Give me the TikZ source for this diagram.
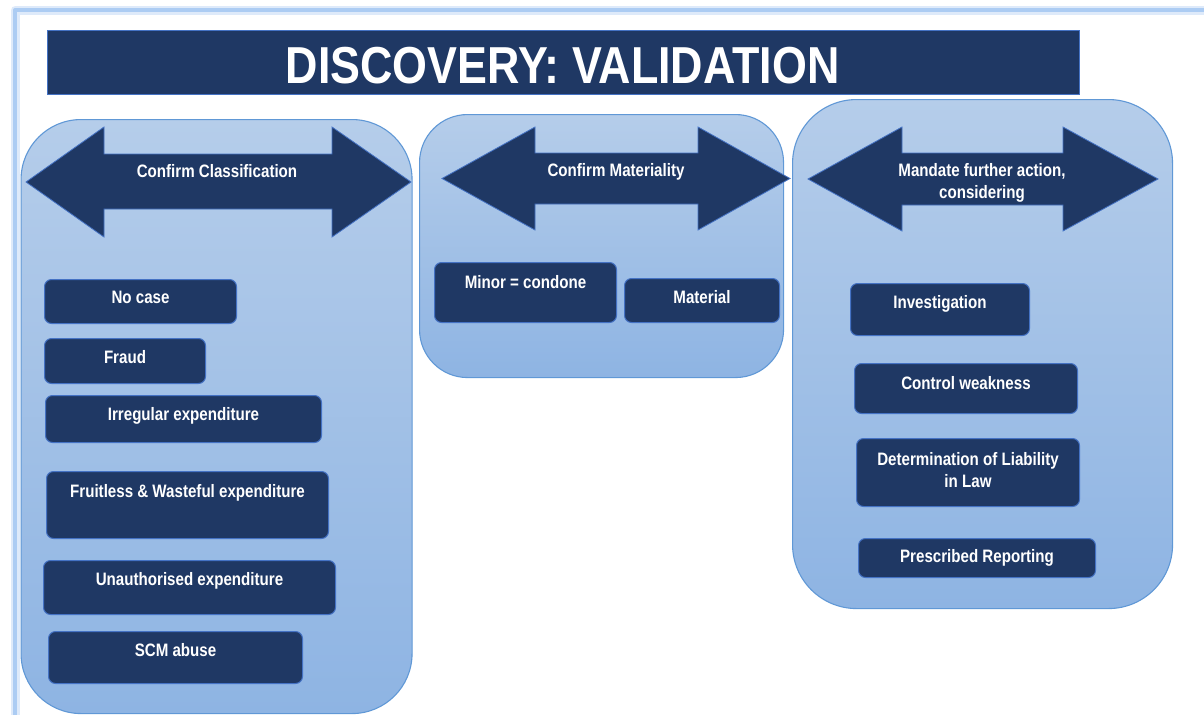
\documentclass[tikz,border=0pt]{standalone}
\usepackage{fontspec}
\setmainfont{Liberation Sans}[FakeStretch=0.84]
\newfontfamily\titlefont{Liberation Sans}[FakeStretch=0.862]
\definecolor{navy}{RGB}{31,56,100}
\definecolor{boxedge}{RGB}{68,114,196}
\definecolor{paneledge}{RGB}{96,152,214}
\definecolor{paneltop}{RGB}{181,205,234}
\definecolor{panelbot}{RGB}{142,180,227}
\definecolor{framecol}{RGB}{172,204,243}
\definecolor{frameglow}{RGB}{222,234,250}
\begin{document}
\begin{tikzpicture}[x=1pt,y=-1pt,
  panel/.style={draw=paneledge, line width=1.1pt, top color=paneltop, bottom color=panelbot, inner sep=0pt, anchor=north west},
  itembox/.style={draw=boxedge, line width=1pt, fill=navy, rounded corners=7pt, inner sep=0pt, anchor=north west},
  bigarrow/.style={fill=navy, draw=boxedge, line width=0.8pt, line join=miter},
  lbl/.style={text=white, font=\bfseries\fontsize{18}{22}\selectfont, inner sep=0pt, anchor=base},
  ttltxt/.style={text=white, font=\titlefont\bfseries\fontsize{52}{60}\selectfont, inner sep=0pt, anchor=base}]
\useasboundingbox (0,0) rectangle (1204,715);
\fill[white] (0,0) rectangle (1204,715);
% page frame
\coordinate (fa) at (15,715);
\coordinate (fb) at (15,10);
\coordinate (fc) at (1204,10);
\draw[frameglow, line width=9pt, line join=round] (fa) -- (fb) -- (fc);
\draw[framecol, line width=4pt, line join=round] (fa) -- (fb) -- (fc);
% title
\node[draw=boxedge, line width=1pt, fill=navy, inner sep=0pt, anchor=north west, minimum width=1032pt, minimum height=64pt] (title) at (47,30) {};
\node[ttltxt] (ttl) at (562.5,83) {DISCOVERY: VALIDATION};
% panels
\node[panel, rounded corners=60pt, minimum width=391pt, minimum height=594pt] (p1) at (20.5,119) {};
\node[panel, rounded corners=48pt, minimum width=364pt, minimum height=263pt] (p2) at (419,114) {};
\node[panel, rounded corners=64pt, minimum width=380pt, minimum height=509pt] (p3) at (792,99) {};
% double arrows
\draw[bigarrow] (26,182) -- (104,127) -- (104,154) -- (332,154) -- (332,127) -- (411,182) -- (332,237) -- (332,209) -- (104,209) -- (104,237) -- cycle;
\draw[bigarrow] (442,178.5) -- (535,127) -- (535,153) -- (698,153) -- (698,127) -- (790,178.5) -- (698,230) -- (698,204) -- (535,204) -- (535,230) -- cycle;
\draw[bigarrow] (808,179) -- (902,127) -- (902,153) -- (1063,153) -- (1063,127) -- (1158,179) -- (1063,231) -- (1063,205) -- (902,205) -- (902,231) -- cycle;
\node[lbl] (a1) at (217,177) {Confirm Classification};
\node[lbl] (a2) at (616,176) {Confirm Materiality};
\node[lbl] (a3a) at (982,176) {Mandate further action,};
\node[lbl] (a3b) at (982,198) {considering};
% left panel items
\node[itembox, minimum width=192pt, minimum height=44pt] (nocase) at (44,279) {};
\node[itembox, minimum width=161pt, minimum height=45pt] (fraud) at (44,338) {};
\node[itembox, minimum width=276pt, minimum height=47pt] (irreg) at (45,395) {};
\node[itembox, minimum width=282pt, minimum height=67pt] (fruit) at (46,471) {};
\node[itembox, minimum width=292pt, minimum height=54pt] (unauth) at (43,560) {};
\node[itembox, minimum width=254pt, minimum height=52pt] (scm) at (48,631) {};
\node[lbl, yshift=-24pt] (tnocase) at (nocase.north) {No case};
\node[lbl, yshift=-25pt] (tfraud) at (fraud.north) {Fraud};
\node[lbl, yshift=-25pt] (tirreg) at (irreg.north) {Irregular expenditure};
\node[lbl, yshift=-26pt] (tfruit) at (fruit.north) {Fruitless \& Wasteful expenditure};
\node[lbl, yshift=-25pt] (tunauth) at (unauth.north) {Unauthorised expenditure};
\node[lbl, yshift=-25pt] (tscm) at (scm.north) {SCM abuse};
% middle panel items
\node[itembox, minimum width=182pt, minimum height=60pt] (minor) at (434,262) {};
\node[itembox, minimum width=155pt, minimum height=44pt] (material) at (624,278) {};
\node[lbl, yshift=-26pt] (tminor) at (minor.north) {Minor = condone};
\node[lbl, yshift=-25pt] (tmaterial) at (material.north) {Material};
% right panel items
\node[itembox, minimum width=179pt, minimum height=52pt] (invest) at (850,283) {};
\node[itembox, minimum width=223pt, minimum height=50pt] (control) at (854,363) {};
\node[itembox, minimum width=223pt, minimum height=68pt] (determ) at (856,438) {};
\node[itembox, minimum width=237pt, minimum height=39pt] (prescr) at (858,538) {};
\node[lbl, yshift=-25pt] (tinvest) at (invest.north) {Investigation};
\node[lbl, yshift=-26pt] (tcontrol) at (control.north) {Control weakness};
\node[lbl, yshift=-27pt] (tdeterma) at (determ.north) {Determination of Liability};
\node[lbl, yshift=-49pt] (tdetermb) at (determ.north) {in Law};
\node[lbl, yshift=-24pt] (tprescr) at (prescr.north) {Prescribed Reporting};
\end{tikzpicture}
\end{document}
